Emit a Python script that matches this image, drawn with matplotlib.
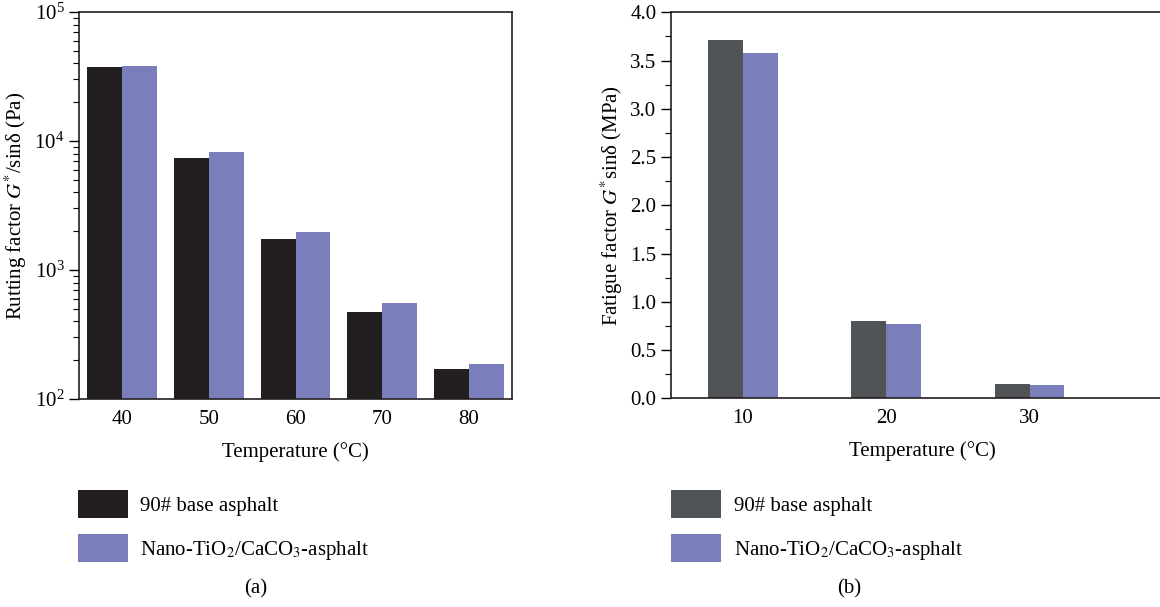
import matplotlib
matplotlib.use("Agg")
import matplotlib.pyplot as plt
import numpy as np
from matplotlib.ticker import LogLocator, MultipleLocator, NullFormatter, FormatStrFormatter

plt.rcParams['font.family'] = ['Liberation Serif', 'DejaVu Serif']
plt.rcParams['mathtext.fontset'] = 'stix'

temps_a = ['40', '50', '60', '70', '80']
base_a = [37500, 7400, 1740, 472, 171]
nano_a = [38400, 8220, 1970, 555, 187]

temps_b = ['10', '20', '30']
base_b = [3.71, 0.80, 0.148]
nano_b = [3.58, 0.77, 0.138]

labels = ['90# base asphalt', 'Nano-TiO$_2$/CaCO$_3$-asphalt']
col_black_a = '#231f20'
col_black_b = '#505456'
col_blue = '#7a7fbb'

W, H = 1160, 607
fig = plt.figure(figsize=(W/100, H/100), dpi=100)
fs = 15

# Panel (a)
axa = fig.add_axes([79/W, 1-399/H, 433/W, 387/H])
xa = np.arange(len(temps_a))
bw = 0.404
ba = axa.bar(xa - bw/2, base_a, bw, color=col_black_a, label=labels[0])
na = axa.bar(xa + bw/2, nano_a, bw, color=col_blue, label=labels[1])
axa.set_yscale('log')
axa.set_ylim(100, 1e5)
axa.set_xlim(-0.5, len(temps_a) - 0.5)
axa.set_xticks(xa)
axa.set_xticklabels(temps_a)
axa.yaxis.set_minor_locator(LogLocator(base=10, subs=np.arange(2, 10)))
axa.yaxis.set_minor_formatter(NullFormatter())
axa.tick_params(axis='x', length=0, labelsize=fs, pad=8)
axa.tick_params(axis='y', which='major', direction='out', length=7, width=1, labelsize=fs)
axa.tick_params(axis='y', which='minor', direction='out', length=4, width=0.8)
for s in axa.spines.values():
    s.set_linewidth(1.2)
    s.set_color('#231f20')
axa.set_xlabel('Temperature (°C)', fontsize=fs, labelpad=9)
axa.set_ylabel('Rutting factor $G^{*}$/sinδ (Pa)', fontsize=fs, labelpad=4)

# Panel (b)
axb = fig.add_axes([671/W, 1-398.3/H, 502/W, 386/H])
xb = np.arange(len(temps_b))
bwb = 0.243
bb = axb.bar(xb - bwb/2, base_b, bwb, color=col_black_b, label=labels[0])
nb = axb.bar(xb + bwb/2, nano_b, bwb, color=col_blue, label=labels[1])
axb.set_ylim(0, 4.0)
axb.set_xlim(-0.5, 3.0)
axb.set_xticks(xb)
axb.set_xticklabels(temps_b)
axb.yaxis.set_major_locator(MultipleLocator(0.5))
axb.yaxis.set_minor_locator(MultipleLocator(0.25))
axb.yaxis.set_major_formatter(FormatStrFormatter('%.1f'))
axb.tick_params(axis='x', length=0, labelsize=fs, pad=8)
axb.tick_params(axis='y', which='major', direction='out', length=7, width=1, labelsize=fs)
axb.tick_params(axis='y', which='minor', direction='out', length=4, width=0.8)
for s in axb.spines.values():
    s.set_linewidth(1.2)
    s.set_color('#231f20')
axb.set_xlabel('Temperature (°C)', fontsize=fs, labelpad=9)
axb.set_ylabel('Fatigue factor $G^{*}$sinδ (MPa)', fontsize=fs, labelpad=4)

# Legends
leg_kw = dict(loc='upper left', frameon=False, fontsize=fs, handlelength=2.4,
              handleheight=1.69, labelspacing=0.78, handletextpad=0.6,
              borderaxespad=0, borderpad=0)
fig.legend(handles=[ba, na], labels=labels, bbox_to_anchor=(78/W, 1-490/H), **leg_kw)
fig.legend(handles=[bb, nb], labels=labels, bbox_to_anchor=(671/W, 1-490/H), **leg_kw)

fig.text(256/W, 1-589/H, '(a)', ha='center', va='center', fontsize=fs)
fig.text(849/W, 1-589/H, '(b)', ha='center', va='center', fontsize=fs)

fig.savefig('out.png', dpi=100)
